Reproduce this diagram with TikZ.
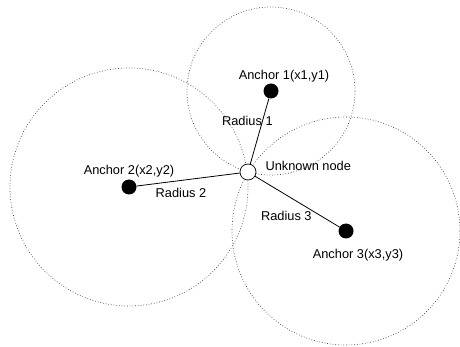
\documentclass[tikz,border=0pt]{standalone}
\usepackage{fontspec}
\setmainfont{Liberation Sans}
\usetikzlibrary{positioning,backgrounds}

\begin{document}
\begin{tikzpicture}[
    x=1pt, y=-1pt,
    font=\fontsize{12.8}{15}\selectfont,
    anchorpt/.style={circle, fill=black, minimum size=15pt, inner sep=0pt},
    unknown/.style={circle, draw=black, fill=white, line width=0.7pt, minimum size=16pt, inner sep=0pt},
    coverage/.style={dotted, draw=black!75, line width=0.7pt},
    link/.style={draw=black, line width=0.8pt},
    tag/.style={inner sep=0pt}
]
    \useasboundingbox (0,0) rectangle (460,347);

    \node[unknown] (u) at (248,172) {};
    \node[anchorpt] (a1) at (271,91) {};
    \node[anchorpt] (a2) at (129,187) {};
    \node[anchorpt] (a3) at (346,231) {};

    % ranges of the anchors
    \begin{scope}[on background layer]
        \draw[coverage] (a1) circle[radius=84pt];
        \draw[coverage] (a2) circle[radius=119pt];
        \draw[coverage] (a3) circle[radius=114pt];
    \end{scope}

    \node[tag, above=1pt of a1, xshift=13pt] (t1) {Anchor 1(x1,y1)};
    \node[tag, above=2pt of a2] (t2) {Anchor 2(x2,y2)};
    \node[tag, below=10pt of a3, xshift=12pt] (t3) {Anchor 3(x3,y3)};
    \node[tag, right=9pt of u, yshift=6pt] (tu) {Unknown node};

    \draw[link] (u) -- node[tag, pos=0.65, xshift=-15pt] {Radius 1} (a1);
    \draw[link] (u) -- node[tag, pos=0.57, yshift=-12pt] {Radius 2} (a2);
    \draw[link] (u) -- node[tag, pos=0.37, yshift=-21pt] {Radius 3} (a3);
\end{tikzpicture}
\end{document}
